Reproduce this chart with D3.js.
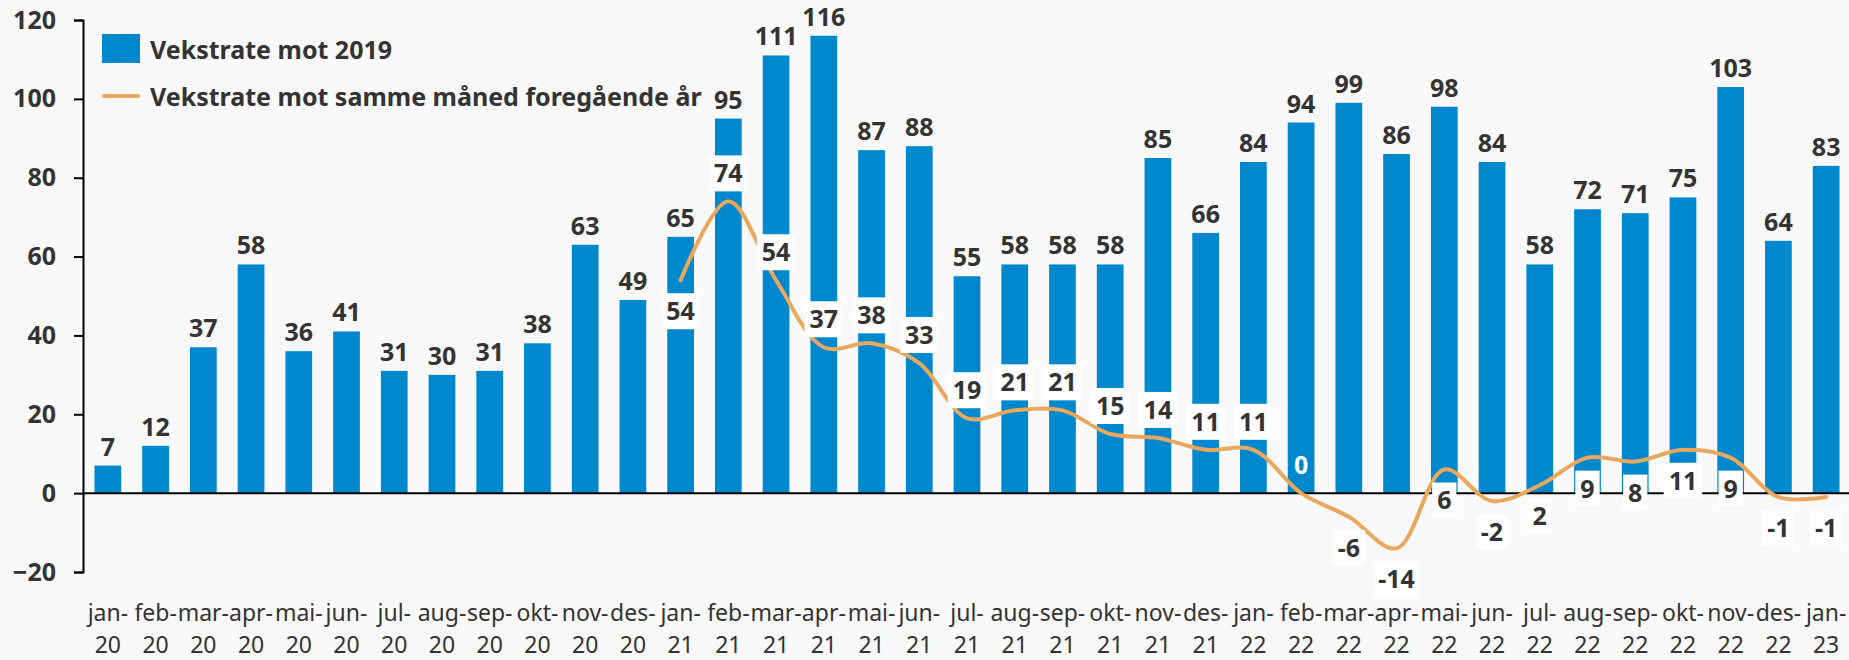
<!DOCTYPE html>
<html>
<head>
<meta charset="utf-8">
<script src="https://cdn.jsdelivr.net/npm/d3@7"></script>
<style>
    body { margin: 0; background: #f9f9f9; }
    text { font-family: "Noto Sans", sans-serif; fill: #333; }
</style>
</head>
<body>
<svg id="chart"></svg>
<script>
"use strict";

const categories = [
    "jan-20", "feb-20", "mar-20", "apr-20", "mai-20", "jun-20", "jul-20", "aug-20", "sep-20", "okt-20", "nov-20", "des-20",
    "jan-21", "feb-21", "mar-21", "apr-21", "mai-21", "jun-21", "jul-21", "aug-21", "sep-21", "okt-21", "nov-21", "des-21",
    "jan-22", "feb-22", "mar-22", "apr-22", "mai-22", "jun-22", "jul-22", "aug-22", "sep-22", "okt-22", "nov-22", "des-22",
    "jan-23"
];
// Vekstrate mot 2019 (bars)
const growthVs2019 = [
    7, 12, 37, 58, 36, 41, 31, 30, 31, 38, 63, 49,
    65, 95, 111, 116, 87, 88, 55, 58, 58, 58, 85, 66,
    84, 94, 99, 86, 98, 84, 58, 72, 71, 75, 103, 64,
    83
];
// Vekstrate mot samme måned foregående år (line, starts jan-21)
const growthVsPrevYear = [
    null, null, null, null, null, null, null, null, null, null, null, null,
    54, 74, 54, 37, 38, 33, 19, 21, 21, 15, 14, 11,
    11, 0, -6, -14, 6, -2, 2, 9, 8, 11, 9, -1,
    -1
];
const yTicks = [-20, 0, 20, 40, 60, 80, 100, 120];
const seriesNames = ["Vekstrate mot 2019", "Vekstrate mot samme måned foregående år"];
// where each line label sits relative to its point
const lineLabelSide = [
    "below", "above", "above", "above", "above", "above", "above", "above", "above", "above", "above", "above",
    "above", "above", "below", "below", "below", "below", "below", "below", "below", "below", "below", "below",
    "below"
];

const BAR_COLOR = "#0088ce";
const LINE_COLOR = "#e8a85e";
const LABEL_SIZE = 25;
const width = 1849;
const height = 660;

const svg = d3.select("#chart")
    .attr("width", width)
    .attr("height", height)
    .style("background", "#f9f9f9");

const x = d3.scaleBand()
    .domain(categories)
    .range([84, 1850])
    .paddingInner(0.44)
    .paddingOuter(0.22);

const y = d3.scaleLinear()
    .domain([-20, 120])
    .range([572, 20]);

// bars
svg.append("g")
    .selectAll("rect")
    .data(categories)
    .join("rect")
    .attr("x", d => x(d))
    .attr("width", x.bandwidth())
    .attr("y", (d, i) => y(Math.max(0, growthVs2019[i])))
    .attr("height", (d, i) => Math.abs(y(growthVs2019[i]) - y(0)))
    .attr("fill", BAR_COLOR);

// bar labels
svg.append("g")
    .selectAll("text")
    .data(categories)
    .join("text")
    .attr("x", d => x(d) + x.bandwidth() / 2)
    .attr("y", (d, i) => y(growthVs2019[i]) - 10)
    .attr("text-anchor", "middle")
    .attr("font-size", LABEL_SIZE)
    .attr("font-weight", 700)
    .text((d, i) => growthVs2019[i]);

// y axis
const yAxis = svg.append("g")
    .attr("transform", `translate(${x.range()[0] - 1},0)`)
    .call(d3.axisLeft(y).tickValues(yTicks).tickSize(9).tickPadding(18));
yAxis.select(".domain").attr("stroke", "#000").attr("stroke-width", 2);
yAxis.selectAll(".tick line").attr("stroke", "#000").attr("stroke-width", 2);
yAxis.selectAll(".tick text")
    .attr("font-size", LABEL_SIZE)
    .attr("font-weight", 700)
    .attr("font-family", "Noto Sans")
    .attr("fill", "#333");

// zero line
svg.append("line")
    .attr("x1", x.range()[0] - 1)
    .attr("x2", width)
    .attr("y1", y(0))
    .attr("y2", y(0))
    .attr("stroke", "#000")
    .attr("stroke-width", 2);

// category labels, month on first row and year below
const catRows = [
    { y: 621, part: d => d.split("-")[0] + "-" },
    { y: 653, part: d => d.split("-")[1] }
];
catRows.forEach(row => {
    svg.append("g")
        .selectAll("text")
        .data(categories)
        .join("text")
        .attr("x", d => x(d) + x.bandwidth() / 2)
        .attr("y", row.y)
        .attr("text-anchor", "middle")
        .attr("font-size", 23)
        .attr("fill", "#333")
        .text(row.part);
});

// smoothed line
const linePoints = categories
    .map((d, i) => ({ cat: d, value: growthVsPrevYear[i] }))
    .filter(p => p.value !== null);

const line = d3.line()
    .x(p => x(p.cat) + x.bandwidth() / 2)
    .y(p => y(p.value))
    .curve(d3.curveCatmullRom.alpha(0.5));

svg.append("path")
    .datum(linePoints)
    .attr("d", line)
    .attr("fill", "none")
    .attr("stroke", LINE_COLOR)
    .attr("stroke-width", 4)
    .attr("stroke-linecap", "round");

// line labels with white boxes
const lineLabels = svg.append("g")
    .selectAll("g")
    .data(linePoints)
    .join("g")
    .attr("transform", (p, i) => {
        const cx = x(p.cat) + x.bandwidth() / 2;
        const cy = y(p.value) + (lineLabelSide[i] === "above" ? -28 : 31);
        return `translate(${cx},${cy})`;
    });

lineLabels.append("text")
    .attr("text-anchor", "middle")
    .attr("dy", "0.36em")
    .attr("font-size", LABEL_SIZE)
    .attr("font-weight", 700)
    .text(p => p.value);

lineLabels.each(function(p) {
    const g = d3.select(this);
    const t = g.select("text");
    const w = t.node().getComputedTextLength();
    if (p.value === 0) {
        // the zero label sits on the bar without a box
        t.style("fill", "#fff");
        return;
    }
    g.insert("rect", "text")
        .attr("x", -w / 2 - 5)
        .attr("y", -18)
        .attr("width", w + 10)
        .attr("height", 36)
        .attr("fill", "#fff");
});

// legend
const legend = svg.append("g").attr("transform", "translate(102,0)");
legend.append("rect")
    .attr("x", 0)
    .attr("y", 34)
    .attr("width", 38)
    .attr("height", 29)
    .attr("fill", BAR_COLOR);
legend.append("line")
    .attr("x1", 2)
    .attr("x2", 36)
    .attr("y1", 96)
    .attr("y2", 96)
    .attr("stroke", LINE_COLOR)
    .attr("stroke-width", 4)
    .attr("stroke-linecap", "round");
legend.selectAll(".legend-label")
    .data(seriesNames)
    .join("text")
    .attr("class", "legend-label")
    .attr("x", 48)
    .attr("y", (d, i) => i === 0 ? 50 : 97)
    .attr("dy", "0.36em")
    .attr("font-size", LABEL_SIZE)
    .attr("font-weight", 700)
    .text(d => d);
</script>
</body>
</html>
